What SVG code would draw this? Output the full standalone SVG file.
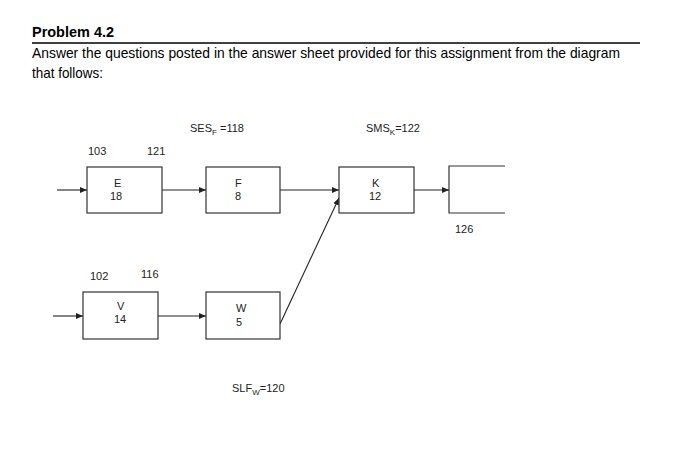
<svg xmlns="http://www.w3.org/2000/svg" width="673" height="451" viewBox="0 0 673 451">
<defs>
<style>
.h{font-family:"Liberation Sans",Arial,sans-serif;fill:#000}
.t{font-family:"Liberation Sans",Arial,sans-serif;font-size:11px;fill:#222}
.s{font-size:8px}
.b{fill:#fff;stroke:#333;stroke-width:1.2}
.c{fill:none;stroke:#222;stroke-width:1.1}
</style>
<marker id="a" markerWidth="7" markerHeight="6" refX="7" refY="3" orient="auto" markerUnits="userSpaceOnUse"><path d="M0,0L7,3L0,6z" fill="#222"/></marker>
</defs>
<rect width="673" height="451" fill="#fff"/>
<text class="h" x="32" y="37" font-size="15" font-weight="bold" textLength="82" lengthAdjust="spacingAndGlyphs">Problem 4.2</text>
<line x1="32" y1="43" x2="640" y2="43" stroke="#000" stroke-width="1.3"/>
<text class="h" x="32" y="58" font-size="15" textLength="588" lengthAdjust="spacingAndGlyphs">Answer the questions posted in the answer sheet provided for this assignment from the diagram</text>
<text class="h" x="32" y="78" font-size="15" textLength="71" lengthAdjust="spacingAndGlyphs">that follows:</text>
<g id="connectors">
<line class="c" x1="57" y1="190" x2="87" y2="190" marker-end="url(#a)"/>
<line class="c" x1="162" y1="190" x2="206" y2="190" marker-end="url(#a)"/>
<line class="c" x1="280" y1="190" x2="339" y2="190" marker-end="url(#a)"/>
<line class="c" x1="414" y1="190" x2="449" y2="190" marker-end="url(#a)"/>
<line class="c" x1="53" y1="316" x2="83" y2="316" marker-end="url(#a)"/>
<line class="c" x1="158" y1="316" x2="206" y2="316" marker-end="url(#a)"/>
<line class="c" x1="280" y1="324" x2="339" y2="198" marker-end="url(#a)"/>
</g>
<g id="E"><rect class="b" x="87" y="167" width="75" height="46"/><text class="t" x="114" y="187">E</text><text class="t" x="110" y="200">18</text></g>
<g id="F"><rect class="b" x="206" y="167" width="74" height="46"/><text class="t" x="235" y="187">F</text><text class="t" x="235" y="200">8</text></g>
<g id="K"><rect class="b" x="339" y="167" width="75" height="46"/><text class="t" x="372" y="187">K</text><text class="t" x="369" y="200">12</text></g>
<g id="End"><path class="b" fill="none" d="M505,166H449V213H505" style="fill:none"/></g>
<g id="V"><rect class="b" x="83" y="292" width="75" height="47"/><text class="t" x="117" y="310">V</text><text class="t" x="114" y="323">14</text></g>
<g id="W"><rect class="b" x="206" y="292" width="74" height="47"/><text class="t" x="236" y="312">W</text><text class="t" x="236" y="326">5</text></g>
<g id="labels">
<text class="t" x="88" y="155">103</text>
<text class="t" x="147" y="155">121</text>
<text class="t" x="190" y="132">SES<tspan class="s" dy="3">F</tspan><tspan dy="-3"> =118</tspan></text>
<text class="t" x="366" y="132">SMS<tspan class="s" dy="3">K</tspan><tspan dy="-3">=122</tspan></text>
<text class="t" x="455" y="233">126</text>
<text class="t" x="90" y="280">102</text>
<text class="t" x="141" y="278">116</text>
<text class="t" x="232" y="392">SLF<tspan class="s" dy="3">W</tspan><tspan dy="-3">=120</tspan></text>
</g>
</svg>
